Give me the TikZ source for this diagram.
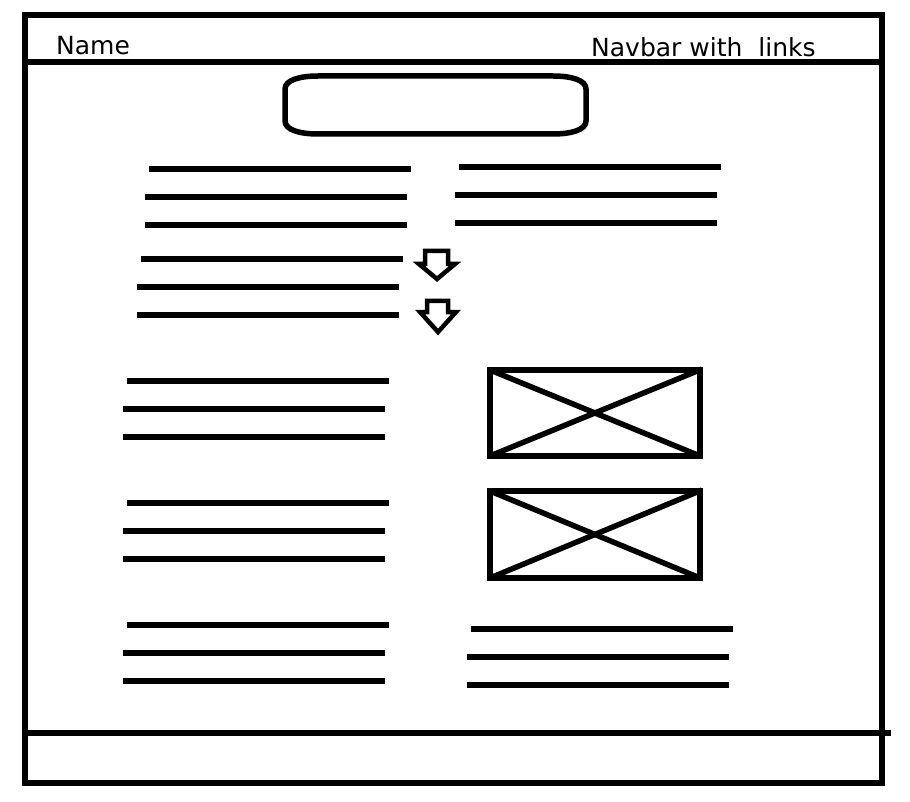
\documentclass[tikz,border=0pt]{standalone}
\usepackage{fontspec}
\setmainfont{DejaVu Sans}
\begin{document}
\begin{tikzpicture}[x=1pt,y=-1pt,
  frameline/.style={line width=5.5pt, line cap=rect},
  textline/.style={line width=6pt},
  boxline/.style={line width=5.5pt},
  arrowline/.style={line width=4.5pt, line join=miter},
  label/.style={font=\fontsize{25}{28}\selectfont, inner sep=0pt, anchor=base west}]
\useasboundingbox (0,0) rectangle (910,802);
% frame
\draw[frameline] (25,15) rectangle (882,783);
\draw[frameline] (25,62) -- (882,62);
\draw[frameline] (25,733) -- (888,733);
% header texts
\node[label] (name) at (56,55) {Name};
\node[label] (navbar) at (591,57) {Navbar with\ \ links};
% rounded search box
\draw[boxline] (318,76) -- (553,76) .. controls (571,76) and (586,80) .. (586,89) -- (586,121)
  .. controls (586,130) and (571,134) .. (553,134) -- (318,134) .. controls (300,134) and (285,130) .. (285,121)
  -- (285,89) .. controls (285,80) and (300,76) .. (318,76) -- cycle;
% first text block left
\draw[textline] (149,169) -- (411,169);
\draw[textline] (145,197) -- (407,197);
\draw[textline] (145,225) -- (407,225);
\draw[textline] (141,259) -- (403,259);
\draw[textline] (137,287) -- (399,287);
\draw[textline] (137,315) -- (399,315);
% first text block right
\draw[textline] (459,167) -- (721,167);
\draw[textline] (455,195) -- (717,195);
\draw[textline] (455,223) -- (717,223);
% arrows
\draw[arrowline] (425,251) -- (448,251) -- (448,264) -- (455,264) -- (437,279) -- (419,264) -- (425,264) -- cycle;
\draw[arrowline] (427,301) -- (448,301) -- (448,312) -- (456,312) -- (438,332) -- (420,312) -- (427,312) -- cycle;
% left blocks
\draw[textline] (127,381) -- (389,381);
\draw[textline] (123,409) -- (385,409);
\draw[textline] (123,437) -- (385,437);
\draw[textline] (127,503) -- (389,503);
\draw[textline] (123,531) -- (385,531);
\draw[textline] (123,559) -- (385,559);
\draw[textline] (127,625) -- (389,625);
\draw[textline] (123,653) -- (385,653);
\draw[textline] (123,681) -- (385,681);
% right bottom block
\draw[textline] (471,629) -- (733,629);
\draw[textline] (467,657) -- (729,657);
\draw[textline] (467,685) -- (729,685);
% image placeholders
\draw[boxline] (490,370) rectangle (700,456);
\draw[boxline] (490,370) -- (700,456);
\draw[boxline] (490,456) -- (702,369);
\draw[boxline] (490,491) rectangle (700,578);
\draw[boxline] (490,491) -- (700,578);
\draw[boxline] (490,578) -- (702,490);
\end{tikzpicture}
\end{document}
